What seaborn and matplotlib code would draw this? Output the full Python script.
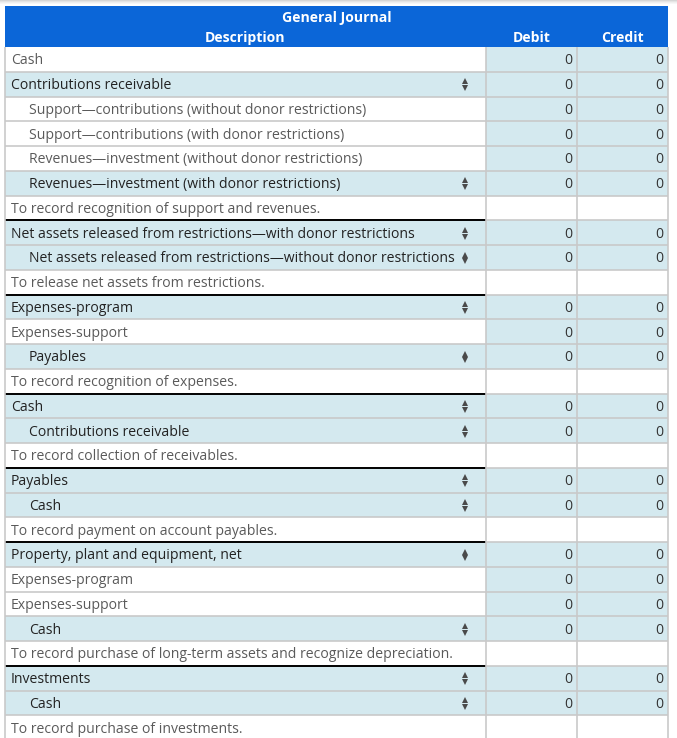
import matplotlib
matplotlib.use("Agg")
import matplotlib.pyplot as plt
from matplotlib.patches import Rectangle
import seaborn as sns

# journal rows
descriptions = [
    "Cash",
    "Contributions receivable",
    "Support\u2014contributions (without donor restrictions)",
    "Support\u2014contributions (with donor restrictions)",
    "Revenues\u2014investment (without donor restrictions)",
    "Revenues\u2014investment (with donor restrictions)",
    "To record recognition of support and revenues.",
    "Net assets released from restrictions\u2014with donor restrictions",
    "Net assets released from restrictions\u2014without donor restrictions",
    "To release net assets from restrictions.",
    "Expenses-program",
    "Expenses-support",
    "Payables",
    "To record recognition of expenses.",
    "Cash",
    "Contributions receivable",
    "To record collection of receivables.",
    "Payables",
    "Cash",
    "To record payment on account payables.",
    "Property, plant and equipment, net",
    "Expenses-program",
    "Expenses-support",
    "Cash",
    "To record purchase of long-term assets and recognize depreciation.",
    "Investments",
    "Cash",
    "To record purchase of investments.",
]
indent   = [0, 0, 1, 1, 1, 1, 0, 0, 1, 0, 0, 0, 1, 0, 0, 1, 0, 0, 1, 0, 0, 0, 0, 1, 0, 0, 1, 0]
dropdown = [0, 1, 0, 0, 0, 1, 0, 1, 1, 0, 1, 0, 1, 0, 1, 1, 0, 1, 1, 0, 1, 0, 0, 1, 0, 1, 1, 0]
memo     = [0, 0, 0, 0, 0, 0, 1, 0, 0, 1, 0, 0, 0, 1, 0, 0, 1, 0, 0, 1, 0, 0, 0, 0, 1, 0, 0, 1]
debit  = [None if m else 0 for m in memo]
credit = [None if m else 0 for m in memo]

title = "General Journal"
col_labels = ["Description", "Debit", "Credit"]

BLUE = "#0B66D8"
SHADE = "#D4E9EF"
GRID = "#C9C9C9"

sns.set_theme(style="white")
plt.rcParams["font.family"] = ["Open Sans", "DejaVu Sans"]

W, H = 677, 738
fig = plt.figure(figsize=(W / 100, H / 100), dpi=100)
ax = fig.add_axes([0, 0, 1, 1])
ax.set_xlim(0, W)
ax.set_ylim(H, 0)
ax.axis("off")

x0, x1, x2, x3 = 5, 486, 577, 668
head_top, head_bot = 6, 47
rh = 24.75
fs = 10.05

# top shadow
for k, c in enumerate(["#d6d6d6", "#e4e4e4", "#efefef", "#f7f7f7"]):
    ax.add_patch(Rectangle((0, k), W, 1, color=c, lw=0))

# header
ax.add_patch(Rectangle((x0, head_top), x3 - x0, head_bot - head_top, color=BLUE, lw=0))
ax.text((x0 + x3) / 2, 18, title, color="white", fontsize=fs, fontweight="bold",
        ha="center", va="center")
for lab, xc in zip(col_labels, [(x0 + x1) / 2, (x1 + x2) / 2, (x2 + x3) / 2]):
    ax.text(xc, 38, lab, color="white", fontsize=fs, fontweight="bold",
            ha="center", va="center")

for i, d in enumerate(descriptions):
    top = head_bot + i * rh
    yc = top + rh / 2 + 1.5
    desc_bg = SHADE if dropdown[i] else "white"
    num_bg = "white" if memo[i] else SHADE
    ax.add_patch(Rectangle((x0, top), x1 - x0, rh, color=desc_bg, lw=0))
    ax.add_patch(Rectangle((x1, top), x2 - x1, rh, color=num_bg, lw=0))
    ax.add_patch(Rectangle((x2, top), x3 - x2, rh, color=num_bg, lw=0))
    tcol = "#222222" if dropdown[i] else "#5a5a5a"
    ax.text(11 + 18 * indent[i], yc, d, color=tcol, fontsize=fs, ha="left", va="center")
    if dropdown[i]:
        ax.plot([465], [yc - 4.2], marker="^", ms=4.6, color="#4a4a4a", mew=0)
        ax.plot([465], [yc + 2.4], marker="v", ms=4.6, color="#4a4a4a", mew=0)
    if debit[i] is not None:
        ax.text(x2 - 5, yc, str(debit[i]), color="#333333", fontsize=fs, ha="right", va="center")
    if credit[i] is not None:
        ax.text(x3 - 5, yc, str(credit[i]), color="#333333", fontsize=fs, ha="right", va="center")
    # row separators
    ax.plot([x0, x3], [top + rh, top + rh], color=GRID, lw=1.2, solid_capstyle="butt")
    if i > 0 and memo[i - 1]:
        ax.plot([x0, x1], [top, top], color="black", lw=1.4, solid_capstyle="butt")

bottom = head_bot + len(descriptions) * rh
for xv in [x0, x1, x2, x3]:
    ax.plot([xv, xv], [head_bot, bottom], color=GRID, lw=1.2, solid_capstyle="butt")

fig.savefig("out.png", dpi=100)
